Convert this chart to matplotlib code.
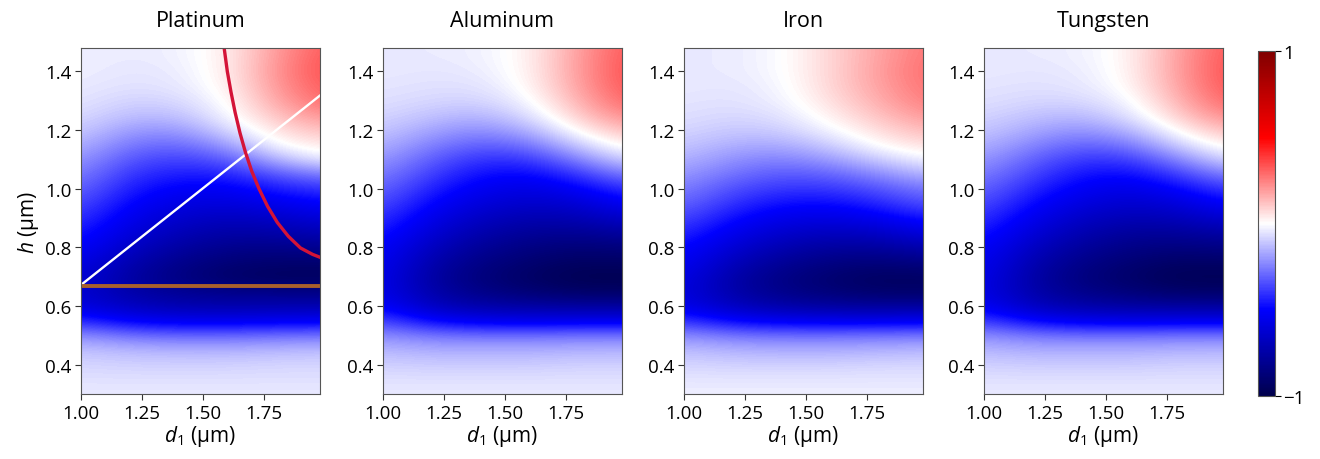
import matplotlib
matplotlib.use('Agg')
import matplotlib.pyplot as plt
import numpy as np

plt.rcParams['font.family'] = ['Open Sans', 'DejaVu Sans']
plt.rcParams['mathtext.fontset'] = 'custom'
plt.rcParams['mathtext.it'] = 'Open Sans:italic'
plt.rcParams['mathtext.rm'] = 'Open Sans'

# grid nodes of the maps
d1 = [1.0, 1.2, 1.4, 1.6, 1.8, 2.0]
h = [0.30, 0.35, 0.40, 0.45, 0.50, 0.55, 0.60, 0.65, 0.70, 0.75, 0.80, 0.85, 0.90,
     0.95, 1.00, 1.05, 1.10, 1.15, 1.20, 1.25, 1.30, 1.35, 1.40, 1.45, 1.50]

platinum = [
    [-0.04, -0.04, -0.04, -0.04, -0.04, -0.04],
    [-0.06, -0.06, -0.06, -0.06, -0.06, -0.06],
    [-0.08, -0.09, -0.09, -0.09, -0.08, -0.08],
    [-0.12, -0.14, -0.15, -0.15, -0.14, -0.13],
    [-0.22, -0.28, -0.30, -0.30, -0.28, -0.27],
    [-0.42, -0.52, -0.55, -0.55, -0.54, -0.53],
    [-0.58, -0.68, -0.72, -0.73, -0.72, -0.72],
    [-0.62, -0.74, -0.80, -0.83, -0.84, -0.84],
    [-0.60, -0.76, -0.85, -0.92, -0.95, -0.95],
    [-0.56, -0.72, -0.82, -0.88, -0.90, -0.90],
    [-0.50, -0.66, -0.76, -0.82, -0.83, -0.80],
    [-0.45, -0.60, -0.70, -0.75, -0.74, -0.70],
    [-0.40, -0.55, -0.64, -0.68, -0.65, -0.60],
    [-0.35, -0.50, -0.58, -0.60, -0.55, -0.50],
    [-0.30, -0.45, -0.52, -0.53, -0.45, -0.40],
    [-0.25, -0.40, -0.45, -0.44, -0.33, -0.25],
    [-0.20, -0.34, -0.38, -0.33, -0.15, -0.03],
    [-0.15, -0.27, -0.30, -0.20, 0.00, 0.05],
    [-0.10, -0.20, -0.21, -0.08, 0.06, 0.13],
    [-0.07, -0.13, -0.13, -0.02, 0.12, 0.22],
    [-0.05, -0.09, -0.08, 0.00, 0.17, 0.30],
    [-0.04, -0.06, -0.05, 0.02, 0.20, 0.33],
    [-0.03, -0.05, -0.04, 0.03, 0.21, 0.35],
    [-0.03, -0.04, -0.03, 0.03, 0.20, 0.34],
    [-0.03, -0.04, -0.03, 0.03, 0.19, 0.32],
]

aluminum = [
    [-0.04, -0.04, -0.04, -0.04, -0.04, -0.04],
    [-0.06, -0.06, -0.06, -0.06, -0.06, -0.06],
    [-0.09, -0.10, -0.10, -0.10, -0.09, -0.09],
    [-0.14, -0.16, -0.16, -0.16, -0.15, -0.15],
    [-0.22, -0.27, -0.28, -0.28, -0.27, -0.27],
    [-0.36, -0.50, -0.55, -0.56, -0.55, -0.55],
    [-0.50, -0.68, -0.74, -0.76, -0.77, -0.77],
    [-0.55, -0.74, -0.84, -0.89, -0.93, -0.93],
    [-0.55, -0.76, -0.87, -0.93, -0.98, -0.98],
    [-0.53, -0.73, -0.84, -0.90, -0.94, -0.93],
    [-0.50, -0.68, -0.79, -0.85, -0.88, -0.86],
    [-0.45, -0.62, -0.73, -0.79, -0.80, -0.76],
    [-0.40, -0.56, -0.67, -0.72, -0.71, -0.64],
    [-0.35, -0.50, -0.60, -0.65, -0.62, -0.52],
    [-0.30, -0.44, -0.54, -0.58, -0.52, -0.40],
    [-0.25, -0.38, -0.48, -0.50, -0.40, -0.25],
    [-0.20, -0.32, -0.41, -0.40, -0.25, -0.08],
    [-0.15, -0.25, -0.32, -0.28, -0.10, 0.04],
    [-0.11, -0.18, -0.23, -0.16, 0.02, 0.14],
    [-0.08, -0.12, -0.15, -0.07, 0.10, 0.24],
    [-0.06, -0.08, -0.09, -0.02, 0.15, 0.31],
    [-0.05, -0.06, -0.06, 0.01, 0.18, 0.34],
    [-0.04, -0.05, -0.04, 0.02, 0.19, 0.35],
    [-0.04, -0.04, -0.03, 0.02, 0.19, 0.34],
    [-0.04, -0.04, -0.03, 0.02, 0.18, 0.33],
]

iron = [
    [-0.03, -0.03, -0.03, -0.03, -0.03, -0.03],
    [-0.05, -0.05, -0.05, -0.05, -0.05, -0.05],
    [-0.08, -0.09, -0.09, -0.09, -0.08, -0.08],
    [-0.13, -0.15, -0.16, -0.16, -0.15, -0.14],
    [-0.22, -0.27, -0.28, -0.28, -0.27, -0.26],
    [-0.40, -0.50, -0.54, -0.55, -0.55, -0.54],
    [-0.55, -0.68, -0.74, -0.77, -0.78, -0.77],
    [-0.58, -0.74, -0.83, -0.88, -0.92, -0.92],
    [-0.56, -0.74, -0.84, -0.90, -0.94, -0.93],
    [-0.52, -0.69, -0.79, -0.85, -0.87, -0.84],
    [-0.48, -0.62, -0.72, -0.77, -0.77, -0.72],
    [-0.42, -0.55, -0.64, -0.68, -0.66, -0.58],
    [-0.36, -0.48, -0.56, -0.58, -0.54, -0.45],
    [-0.30, -0.41, -0.48, -0.49, -0.43, -0.34],
    [-0.25, -0.35, -0.40, -0.40, -0.34, -0.26],
    [-0.20, -0.28, -0.33, -0.31, -0.23, -0.14],
    [-0.15, -0.22, -0.25, -0.20, -0.10, -0.02],
    [-0.11, -0.16, -0.17, -0.10, 0.01, 0.07],
    [-0.08, -0.11, -0.10, -0.02, 0.07, 0.14],
    [-0.06, -0.08, -0.06, 0.03, 0.12, 0.21],
    [-0.05, -0.06, -0.03, 0.06, 0.16, 0.26],
    [-0.04, -0.05, -0.02, 0.08, 0.18, 0.28],
    [-0.04, -0.04, -0.01, 0.08, 0.19, 0.29],
    [-0.04, -0.04, -0.01, 0.08, 0.18, 0.28],
    [-0.04, -0.04, -0.01, 0.08, 0.18, 0.27],
]

tungsten = [
    [-0.04, -0.04, -0.04, -0.04, -0.04, -0.04],
    [-0.06, -0.06, -0.06, -0.06, -0.06, -0.06],
    [-0.09, -0.10, -0.10, -0.10, -0.09, -0.09],
    [-0.14, -0.16, -0.16, -0.16, -0.15, -0.15],
    [-0.22, -0.27, -0.28, -0.28, -0.27, -0.27],
    [-0.38, -0.50, -0.55, -0.56, -0.55, -0.55],
    [-0.52, -0.68, -0.74, -0.76, -0.77, -0.77],
    [-0.56, -0.74, -0.83, -0.88, -0.92, -0.92],
    [-0.55, -0.75, -0.86, -0.92, -0.97, -0.97],
    [-0.53, -0.72, -0.83, -0.89, -0.93, -0.92],
    [-0.50, -0.67, -0.78, -0.84, -0.86, -0.84],
    [-0.45, -0.61, -0.72, -0.78, -0.78, -0.74],
    [-0.40, -0.55, -0.66, -0.71, -0.69, -0.62],
    [-0.35, -0.49, -0.59, -0.64, -0.60, -0.50],
    [-0.30, -0.43, -0.53, -0.57, -0.50, -0.38],
    [-0.25, -0.37, -0.47, -0.49, -0.38, -0.24],
    [-0.20, -0.31, -0.40, -0.39, -0.24, -0.07],
    [-0.15, -0.24, -0.31, -0.27, -0.09, 0.04],
    [-0.11, -0.17, -0.22, -0.15, 0.02, 0.14],
    [-0.08, -0.12, -0.14, -0.06, 0.10, 0.24],
    [-0.06, -0.08, -0.08, -0.02, 0.15, 0.31],
    [-0.05, -0.06, -0.05, 0.01, 0.18, 0.34],
    [-0.04, -0.05, -0.04, 0.02, 0.19, 0.35],
    [-0.04, -0.04, -0.03, 0.02, 0.19, 0.34],
    [-0.04, -0.04, -0.03, 0.02, 0.18, 0.33],
]

titles = ['Platinum', 'Aluminum', 'Iron', 'Tungsten']
maps = [platinum, aluminum, iron, tungsten]

# overlay lines on Platinum
white_d1 = [1.0, 1.98]
white_h = [0.672, 1.318]
brown_d1 = [1.0, 1.98]
brown_h = [0.668, 0.668]
red_d1 = [1.587, 1.600, 1.615, 1.632, 1.652, 1.674, 1.700, 1.730, 1.765,
          1.805, 1.850, 1.900, 1.950, 1.981]
red_h = [1.480, 1.400, 1.330, 1.260, 1.190, 1.125, 1.060, 1.000, 0.940,
         0.885, 0.838, 0.798, 0.776, 0.766]

fig = plt.figure(figsize=(13.2, 4.6), dpi=100)
W, H = 1320, 460
lefts = [81, 383, 684, 984]
axes = []
for i in range(4):
    ax = fig.add_axes([lefts[i] / W, 65 / H, 239 / W, 346 / H])
    axes.append(ax)
    dx = (d1[1] - d1[0]) / 2
    dy = (h[1] - h[0]) / 2
    im = ax.imshow(np.array(maps[i]), origin='lower', cmap='seismic', vmin=-1, vmax=1,
                   extent=[d1[0] - dx, d1[-1] + dx, h[0] - dy, h[-1] + dy],
                   interpolation='bicubic', aspect='auto')
    ax.set_xlim(1.0, 1.98)
    ax.set_ylim(0.3, 1.48)
    ax.set_xticks([1.0, 1.25, 1.5, 1.75])
    ax.set_xticklabels(['1.00', '1.25', '1.50', '1.75'])
    ax.set_yticks([0.4, 0.6, 0.8, 1.0, 1.2, 1.4])
    ax.set_yticklabels(['0.4', '0.6', '0.8', '1.0', '1.2', '1.4'])
    ax.tick_params(labelsize=13.5, length=4, color='#333333', pad=3)
    ax.set_title(titles[i], fontsize=15.5, pad=16)
    ax.set_xlabel('$d_1$ (μm)', fontsize=15, labelpad=1)
    for s in ax.spines.values():
        s.set_color('#555555')

axes[0].set_ylabel('$h$ (μm)', fontsize=15, labelpad=3)
axes[0].plot(white_d1, white_h, color='white', lw=1.7)
axes[0].plot(brown_d1, brown_h, color='#a9602c', lw=2.8)
axes[0].plot(red_d1, red_h, color='#d41438', lw=2.4, solid_joinstyle='round')

cax = fig.add_axes([1258 / W, 63 / H, 17 / W, 345 / H])
cb = fig.colorbar(im, cax=cax, ticks=[-1, 1])
cb.ax.set_yticklabels(['\u22121', '1'])
cb.ax.tick_params(labelsize=13.5, length=4, pad=2)
cb.outline.set_edgecolor('#555555')

plt.savefig('out.png', dpi=100)
